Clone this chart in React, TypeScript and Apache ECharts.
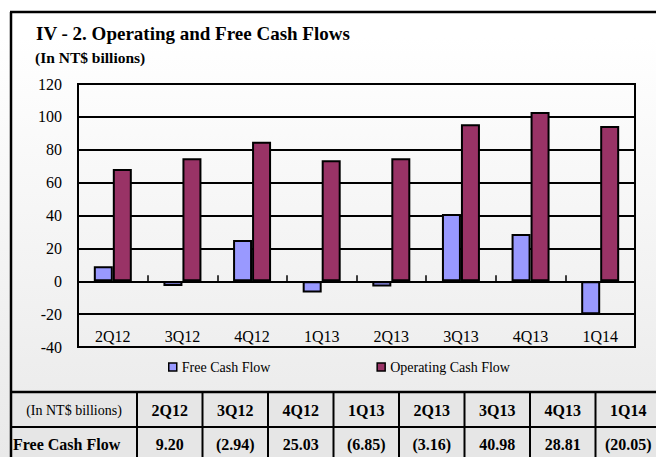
import React, { useEffect, useRef } from "react";
import * as echarts from "echarts";

const categories = ["2Q12", "3Q12", "4Q12", "1Q13", "2Q13", "3Q13", "4Q13", "1Q14"];
const freeCashFlow = [9.2, -2.94, 25.03, -6.85, -3.16, 40.98, 28.81, -20.05];
const operatingCashFlow = [68.3, 74.8, 84.8, 73.6, 74.8, 95.5, 102.9, 94.5];
const yMin = -40;
const yMax = 120;
const yInterval = 20;
const titleText = "IV - 2. Operating and Free Cash Flows";
const subtitleText = "(In NT$ billions)";
const tableHeaderLabel = "(In NT$ billions)";
const tableRowLabel = "Free Cash Flow";

const SERIF = '"Liberation Serif", "Times New Roman", serif';

function fmt(v: number): string {
  return v < 0 ? `(${Math.abs(v).toFixed(2)})` : v.toFixed(2);
}

export default function App() {
  const ref = useRef<HTMLDivElement>(null);

  useEffect(() => {
    document.body.style.margin = "0";
    if (!ref.current) return;
    const chart = echarts.init(ref.current, undefined, { renderer: "svg" });

    const W = 656;
    const H = 457;
    const tableTop = 392;
    const rowDiv = 427;
    const col0 = 137;
    const colW = 65.5;

    const graphics: any[] = [];
    // outer frame
    graphics.push({ type: "line", shape: { x1: 10, y1: 12, x2: W, y2: 12 }, style: { stroke: "#000", lineWidth: 2.5 }, z: 10 });
    graphics.push({ type: "line", shape: { x1: 11, y1: 12, x2: 11, y2: H }, style: { stroke: "#000", lineWidth: 2.5 }, z: 10 });
    // title
    graphics.push({
      type: "text", x: 36, y: 33, z: 10,
      style: { text: titleText, font: `bold 19px ${SERIF}`, fill: "#000", textAlign: "left", textVerticalAlign: "middle", verticalAlign: "middle" },
    });
    graphics.push({
      type: "text", x: 35, y: 57, z: 10,
      style: { text: subtitleText, font: `bold 15.5px ${SERIF}`, fill: "#000", textAlign: "left", textVerticalAlign: "middle", verticalAlign: "middle" },
    });
    // table
    graphics.push({ type: "rect", shape: { x: 11, y: tableTop, width: W - 11, height: H - tableTop }, style: { fill: "#e6e6e6" }, z: 1 });
    graphics.push({ type: "line", shape: { x1: 10, y1: tableTop, x2: W, y2: tableTop }, style: { stroke: "#000", lineWidth: 2.5 }, z: 10 });
    graphics.push({ type: "line", shape: { x1: 10, y1: rowDiv, x2: W, y2: rowDiv }, style: { stroke: "#000", lineWidth: 2 }, z: 10 });
    for (let i = 0; i < categories.length; i++) {
      const x = col0 + i * colW;
      graphics.push({ type: "line", shape: { x1: x, y1: tableTop, x2: x, y2: H }, style: { stroke: "#000", lineWidth: 2 }, z: 10 });
    }
    graphics.push({
      type: "text", x: (11 + col0) / 2, y: 410, z: 10,
      style: { text: tableHeaderLabel, font: `14px ${SERIF}`, fill: "#000", textAlign: "center", textVerticalAlign: "middle", verticalAlign: "middle" },
    });
    graphics.push({
      type: "text", x: 13, y: 444, z: 10,
      style: { text: tableRowLabel, font: `bold 16px ${SERIF}`, fill: "#000", textAlign: "left", textVerticalAlign: "middle", verticalAlign: "middle" },
    });
    categories.forEach((c, i) => {
      const cx = col0 + colW * (i + 0.5);
      graphics.push({
        type: "text", x: cx, y: 410, z: 10,
        style: { text: c, font: `bold 16px ${SERIF}`, fill: "#000", textAlign: "center", textVerticalAlign: "middle", verticalAlign: "middle" },
      });
      graphics.push({
        type: "text", x: cx, y: 444, z: 10,
        style: { text: fmt(freeCashFlow[i]), font: `bold 16px ${SERIF}`, fill: "#000", textAlign: "center", textVerticalAlign: "middle", verticalAlign: "middle" },
      });
    });

    chart.setOption({
      animation: false,
      backgroundColor: "transparent",
      textStyle: { fontFamily: SERIF },
      grid: {
        left: 78, top: 84, right: W - 635, bottom: H - 347,
        show: true, borderColor: "#000", borderWidth: 2, backgroundColor: "transparent",
      },
      legend: {
        left: 168, top: 360, padding: 0,
        icon: "rect", itemWidth: 8, itemHeight: 8, itemGap: 106, itemTextGap: 3,
        itemStyle: { borderColor: "#000", borderWidth: 1.5 },
        textStyle: { fontFamily: SERIF, fontSize: 14, color: "#000" },
        data: ["Free Cash Flow", "Operating Cash Flow"],
      },
      xAxis: [
        {
          type: "category", data: categories, position: "bottom",
          axisLine: { show: true, onZero: true, lineStyle: { color: "#000", width: 2 } },
          axisTick: { show: true, inside: true, length: 6, lineStyle: { color: "#000", width: 1.5 } },
          axisLabel: { show: false },
          splitLine: { show: false },
        },
        {
          type: "category", data: categories, position: "bottom",
          axisLine: { show: false, onZero: false },
          axisTick: { show: false },
          axisLabel: { show: true, inside: true, margin: 3, fontFamily: SERIF, fontSize: 16, color: "#000" },
          splitLine: { show: false },
        },
      ],
      yAxis: {
        type: "value", min: yMin, max: yMax, interval: yInterval,
        axisLine: { show: true, lineStyle: { color: "#000", width: 2 } },
        axisTick: { show: false },
        axisLabel: { fontFamily: SERIF, fontSize: 16, color: "#000", margin: 16 },
        splitLine: { show: true, lineStyle: { color: "#000", width: 2 } },
      },
      series: [
        {
          name: "Free Cash Flow", type: "bar", xAxisIndex: 0, data: freeCashFlow,
          barWidth: 19, barGap: "0%",
          itemStyle: { color: "#9999ff", borderColor: "#000", borderWidth: 2 },
        },
        {
          name: "Operating Cash Flow", type: "bar", xAxisIndex: 0, data: operatingCashFlow,
          barWidth: 19, barGap: "0%",
          itemStyle: { color: "#993366", borderColor: "#000", borderWidth: 2 },
        },
      ],
      graphic: graphics,
    });

    return () => chart.dispose();
  }, []);

  return (
    <div
      ref={ref}
      style={{
        width: 656,
        height: 457,
        background: "linear-gradient(to bottom, #ffffff 0%, #ffffff 8%, #e9e9e9 100%)",
      }}
    />
  );
}
